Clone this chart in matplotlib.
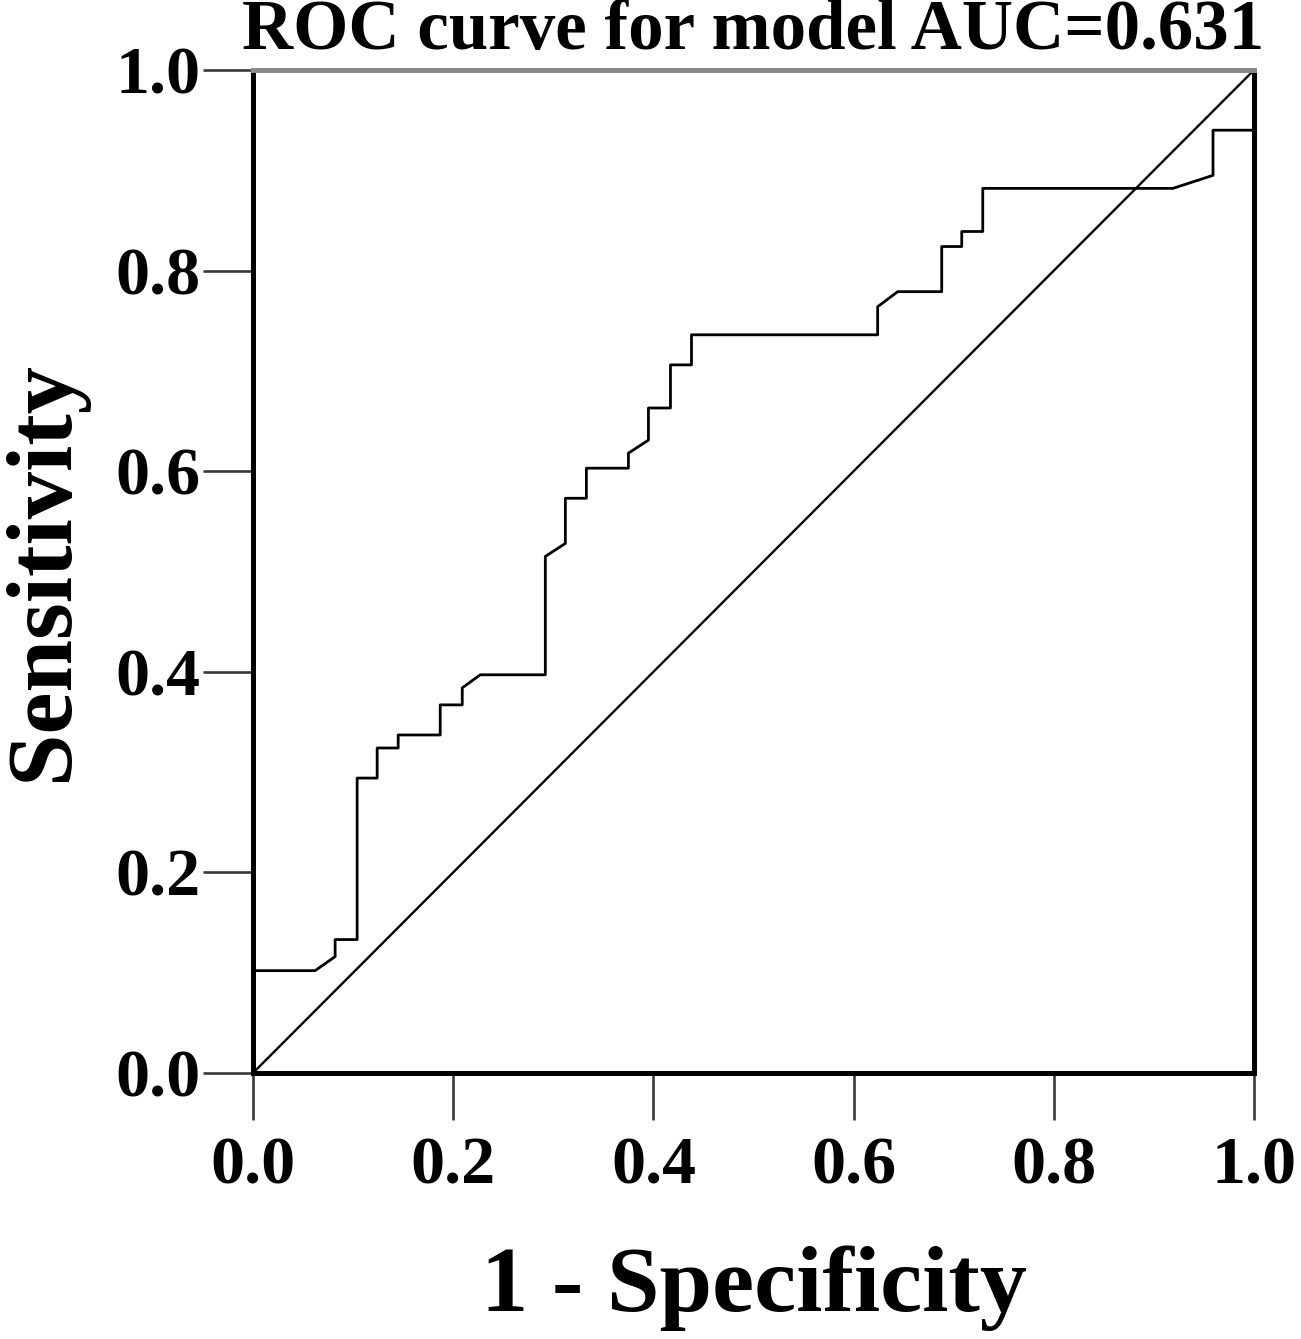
import matplotlib
matplotlib.use("Agg")
from matplotlib import pyplot as plt

# ROC curve vertices (1 - specificity, sensitivity)
fpr = [0.0, 0.0, 0.062, 0.082, 0.082, 0.104, 0.104, 0.124, 0.124, 0.145, 0.145,
       0.187, 0.187, 0.209, 0.209, 0.227, 0.292, 0.292, 0.312, 0.312, 0.333,
       0.333, 0.375, 0.375, 0.395, 0.395, 0.417, 0.417, 0.438, 0.438, 0.624,
       0.624, 0.644, 0.688, 0.688, 0.708, 0.708, 0.729, 0.729, 0.919, 0.959,
       0.959, 1.0, 1.0]
tpr = [0.0, 0.102, 0.102, 0.116, 0.133, 0.133, 0.294, 0.294, 0.324, 0.324, 0.337,
       0.337, 0.367, 0.367, 0.384, 0.397, 0.397, 0.515, 0.528, 0.573, 0.573,
       0.603, 0.603, 0.618, 0.631, 0.663, 0.663, 0.706, 0.706, 0.736, 0.736,
       0.764, 0.779, 0.779, 0.824, 0.824, 0.839, 0.839, 0.882, 0.882, 0.895,
       0.940, 0.940, 1.0]

ticks = [0.0, 0.2, 0.4, 0.6, 0.8, 1.0]
tick_labels = ["0.0", "0.2", "0.4", "0.6", "0.8", "1.0"]
titulo = "ROC curve for model AUC=0.631"

plt.rcParams["font.family"] = ["Liberation Serif", "DejaVu Serif"]
plt.rcParams["font.weight"] = "bold"

fig = plt.figure(figsize=(13.01, 13.39), dpi=100)
ax = fig.add_axes([0.1945, 0.1987, 0.7694, 0.749])

ax.plot(fpr, tpr, color="black", lw=2.0, clip_on=False)
ax.plot([0, 1], [0, 1], color="black", lw=1.7)

ax.set_xlim(0, 1)
ax.set_ylim(0, 1)
ax.set_xticks(ticks)
ax.set_yticks(ticks)
ax.set_xticklabels(tick_labels)
ax.set_yticklabels(tick_labels)
ax.tick_params(direction="out", width=1.9, color="#3a3a3a", labelsize=49)
ax.tick_params(axis="x", length=34, pad=12)
ax.tick_params(axis="y", length=36, pad=2)

for lado in ["left", "bottom", "right"]:
    ax.spines[lado].set_linewidth(3.6)
    ax.spines[lado].set_color("black")
ax.spines["top"].set_linewidth(3.6)
ax.spines["top"].set_color("#8a8a8a")
ax.yaxis.get_major_ticks()[-1].tick1line.set_color("#9a9a9a")

ax.set_title(titulo, fontsize=51, fontweight="bold", pad=15)
ax.set_xlabel("1 - Specificity", fontsize=68, fontweight="bold", labelpad=34)
ax.set_ylabel("Sensitivity", fontsize=68, fontweight="bold", labelpad=20)

fig.savefig("out.png", dpi=100)
